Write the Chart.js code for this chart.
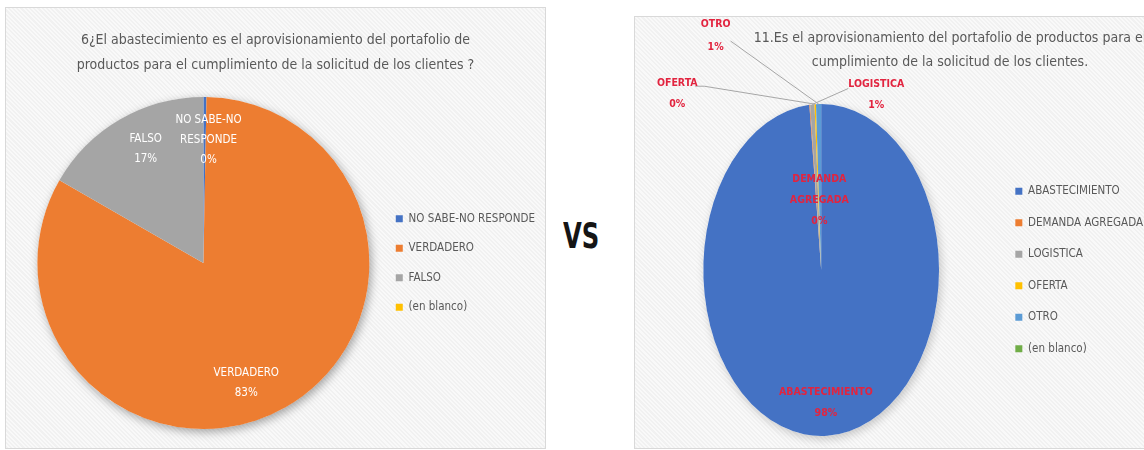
<!DOCTYPE html>
<html lang="es">
<head>
<meta charset="utf-8">
<title>Pregunta 6 vs pregunta 11</title>
<script src="https://cdn.jsdelivr.net/npm/chart.js@4.4.1/dist/chart.umd.min.js"></script>
<style>
  body { margin: 0; width: 1144px; height: 450px; overflow: hidden; background: #fff; position: relative; }
  .panel {
    position: absolute;
    background: repeating-linear-gradient(45deg, #f1f1f1 0px, #f1f1f1 1.5px, #f9f9f9 1.5px, #f9f9f9 3px);
    outline: 1px solid #d9d9d9;
  }
  .panel canvas { position: absolute; left: 0; top: 0; }
  #vs {
    position: absolute; left: 563px; top: 215px; line-height: 1;
    font: bold 36px "DejaVu Sans Condensed", sans-serif;
    color: #151515;
    transform: scaleX(0.75);
    transform-origin: left top;
  }
</style>
</head>
<body>
<div class="panel" style="left:6px; top:8px; width:539px; height:440px;">
  <canvas id="grafico6" width="539" height="440"></canvas>
</div>
<div id="vs">VS</div>
<div class="panel" style="left:635px; top:17px; width:630px; height:431px;">
  <canvas id="grafico11" width="630" height="431"></canvas>
</div>
<script>
// Pregunta 6
var titulo6 = ['6¿El abastecimiento es el aprovisionamiento del portafolio de',
               'productos para el cumplimiento de la solicitud de los clientes ?'];
var categorias6 = ['NO SABE-NO RESPONDE', 'VERDADERO', 'FALSO', '(en blanco)'];
var valores6 = [0.3, 83, 16.7, 0];
var nombresEtiqueta6 = [['NO SABE-NO', 'RESPONDE'], ['VERDADERO'], ['FALSO'], null];

// Pregunta 11
var titulo11 = ['11.Es el aprovisionamiento del portafolio de productos para el',
                'cumplimiento de la solicitud de los clientes.'];
var categorias11 = ['ABASTECIMIENTO', 'DEMANDA AGREGADA', 'LOGISTICA', 'OFERTA', 'OTRO', '(en blanco)'];
var valores11 = [98.4, 0.1, 0.6, 0.2, 0.7, 0];
var nombresEtiqueta11 = [['ABASTECIMIENTO'], ['DEMANDA', 'AGREGADA'], ['LOGISTICA'], ['OFERTA'], ['OTRO'], null];

var FUENTE = '"DejaVu Sans Condensed", "Liberation Sans Narrow", sans-serif';
var coloresExcel = ['#4472C4', '#ED7D31', '#A5A5A5', '#FFC000', '#5B9BD5', '#70AD47'];

// pastel con sombra y, si hace falta, achatado en horizontal (elipse)
var pluginPastel = {
    id: 'pastel',
    beforeDatasetsDraw: function (chart, args, opts) {
        var ctx = chart.ctx;
        var arco = chart.getDatasetMeta(0).data[0];
        var cx = arco.x, cy = arco.y;
        ctx.save();
        ctx.translate(cx, 0);
        ctx.scale(opts.escalaX || 1, 1);
        ctx.translate(-cx, 0);
        if (opts.sombra) {
            ctx.save();
            ctx.shadowColor = opts.sombra;
            ctx.shadowBlur = 10;
            ctx.shadowOffsetX = 2;
            ctx.shadowOffsetY = 3;
            ctx.fillStyle = '#ffffff';
            ctx.beginPath();
            ctx.arc(cx, cy, arco.outerRadius, 0, Math.PI * 2);
            ctx.fill();
            ctx.restore();
        }
    },
    afterDatasetsDraw: function (chart) {
        chart.ctx.restore();
    }
};

// el titulo se centra sobre todo el lienzo, no sobre el hueco que deja la leyenda
var pluginTitulo = {
    id: 'tituloCentrado',
    afterLayout: function (chart) {
        if (chart.titleBlock) {
            chart.titleBlock.left = 0;
            chart.titleBlock.right = chart.width;
            chart.titleBlock.width = chart.width;
        }
    }
};

// etiquetas de datos estilo Excel (nombre + porcentaje), con lineas guia opcionales
var pluginEtiquetas = {
    id: 'etiquetas',
    afterDraw: function (chart, args, opts) {
        var ctx = chart.ctx;
        var valores = chart.data.datasets[0].data;
        var total = valores.reduce(function (s, v) { return s + v; }, 0);
        var escalaX = opts.escalaX || 1;
        ctx.save();
        ctx.font = opts.fuente;
        ctx.textAlign = 'center';
        ctx.textBaseline = 'middle';
        chart.getDatasetMeta(0).data.forEach(function (arco, i) {
            var pos = opts.posiciones[i];
            if (!pos || !opts.nombres[i]) return;
            var p = arco.getProps(['x', 'y', 'startAngle', 'endAngle', 'outerRadius'], true);
            var ang = (p.startAngle + p.endAngle) / 2;
            var rx = p.outerRadius * escalaX, ry = p.outerRadius;
            var x, y;
            if (pos.radio) {
                x = p.x + Math.cos(ang) * rx * pos.radio + (pos.dx || 0);
                y = p.y + Math.sin(ang) * ry * pos.radio + (pos.dy || 0);
            } else {
                var bx = p.x + Math.cos(ang) * rx, by = p.y + Math.sin(ang) * ry;
                x = bx + pos.dx;
                y = by + pos.dy;
                ctx.strokeStyle = opts.colorGuia;
                ctx.lineWidth = 1;
                ctx.beginPath();
                ctx.moveTo(bx, by);
                pos.guia.forEach(function (g) { ctx.lineTo(x + g[0], y + g[1]); });
                ctx.stroke();
            }
            var lineas = opts.nombres[i].concat(Math.round(valores[i] / total * 100) + '%');
            var alto = pos.alto || opts.interlineado;
            var y0 = y - (lineas.length - 1) * alto / 2;
            ctx.fillStyle = opts.color;
            lineas.forEach(function (t, k) { ctx.fillText(t, x, y0 + k * alto); });
        });
        ctx.restore();
    }
};

function inicializarGrafico(id, titulo, categorias, valores, nombres, conf) {
    return new Chart(document.getElementById(id), {
        type: 'pie',
        data: {
            labels: categorias,
            datasets: [{
                data: valores,
                backgroundColor: conf.colores,
                borderWidth: 0
            }]
        },
        options: {
            responsive: false,
            animation: false,
            devicePixelRatio: 1,
            radius: 166,
            layout: { padding: conf.padding },
            plugins: {
                title: {
                    display: true,
                    text: titulo,
                    color: '#595959',
                    font: { family: FUENTE, size: 14, weight: 'normal', lineHeight: conf.altoTitulo / 14 },
                    padding: conf.paddingTitulo
                },
                legend: {
                    position: 'right',
                    fullSize: false,
                    labels: {
                        boxWidth: 7,
                        boxHeight: 7,
                        padding: conf.paddingLeyenda,
                        color: '#595959',
                        font: { family: FUENTE, size: 11.5 }
                    }
                },
                tooltip: { enabled: false },
                pastel: { escalaX: conf.escalaX, sombra: conf.sombra },
                etiquetas: {
                    nombres: nombres,
                    posiciones: conf.posiciones,
                    escalaX: conf.escalaX,
                    fuente: conf.fuenteEtiqueta,
                    color: conf.colorEtiqueta,
                    colorGuia: '#a6a6a6',
                    interlineado: conf.interlineado
                }
            }
        },
        plugins: [pluginPastel, pluginTitulo, pluginEtiquetas]
    });
}

inicializarGrafico('grafico6', titulo6, categorias6, valores6, nombresEtiqueta6, {
    colores: coloresExcel.slice(0, 4),
    padding: { left: 23, right: 0, top: 0, bottom: 0 },
    altoTitulo: 25,
    paddingTitulo: { top: 20, bottom: 0 },
    paddingLeyenda: 18,
    escalaX: 1,
    sombra: 'rgba(0,0,0,0.35)',
    fuenteEtiqueta: '11.5px ' + FUENTE,
    colorEtiqueta: '#ffffff',
    interlineado: 20,
    posiciones: [
        { radio: 0.74, dx: 4 },
        { radio: 0.83, dx: -25 },
        { radio: 0.79, dx: 8 },
        null
    ]
});

inicializarGrafico('grafico11', titulo11, categorias11, valores11, nombresEtiqueta11, {
    colores: coloresExcel,
    padding: { left: 12, right: 112, top: 0, bottom: 0 },
    altoTitulo: 24,
    paddingTitulo: { top: 9, bottom: 18 },
    paddingLeyenda: 20,
    escalaX: 0.71,
    sombra: 'rgba(0,0,0,0.2)',
    fuenteEtiqueta: 'bold 10.5px ' + FUENTE,
    colorEtiqueta: '#E2243F',
    interlineado: 21,
    posiciones: [
        { radio: 0.8 },
        { radio: 0.42, dx: 3 },
        { dx: 64, dy: -10, guia: [[-28, -6]] },
        { dx: -138, dy: -10, guia: [[27, -8], [18, -8]] },
        { dx: -103, dy: -68, alto: 23, guia: [[15, 5]] },
        null
    ]
});
</script>
</body>
</html>
